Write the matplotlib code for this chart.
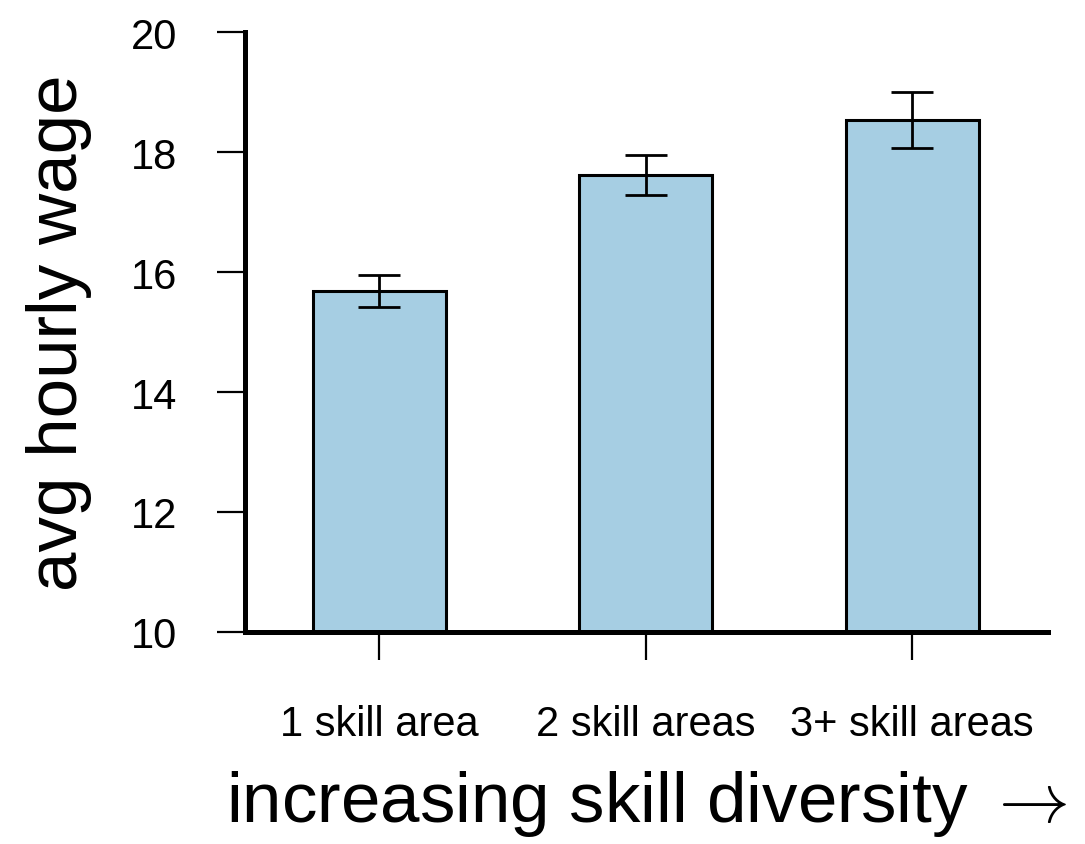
import matplotlib
matplotlib.use('Agg')
import matplotlib.pyplot as plt

plt.rcParams['font.family'] = ['Liberation Sans', 'DejaVu Sans']
plt.rcParams['mathtext.fontset'] = 'cm'

categories = ['1 skill area', '2 skill areas', '3+ skill areas']
wages = [15.68, 17.62, 18.53]
err_low = [0.26, 0.34, 0.46]
err_high = [0.27, 0.33, 0.47]
yticks = [10, 12, 14, 16, 18, 20]

fig = plt.figure(figsize=(10.85, 8.45), dpi=100)
ax = fig.add_axes([0.2258, 0.2509, 0.740, 0.710])

x = range(len(categories))
ax.bar(x, wages, width=0.5, color='#a6cee3', edgecolor='black', linewidth=2.2,
       yerr=[err_low, err_high], capsize=15,
       error_kw=dict(elinewidth=2.0, capthick=2.0, ecolor='black'))

ax.set_xlim(-0.505, 2.51)
ax.set_ylim(10, 20)
ax.set_yticks(yticks)
ax.set_xticks(list(x))
ax.set_xticklabels(categories)

for s in ['top', 'right']:
    ax.spines[s].set_visible(False)
for s in ['left', 'bottom']:
    ax.spines[s].set_linewidth(3.6)

ax.tick_params(axis='x', length=20, width=1.6, pad=32, labelsize=30)
ax.tick_params(axis='y', length=20, width=1.6, pad=29, labelsize=30)

ax.set_ylabel('avg hourly wage', fontsize=51, labelpad=28)
ax.set_xlabel(r'increasing skill diversity $\rightarrow$', fontsize=51, labelpad=17)

fig.savefig('out.png', dpi=100)
